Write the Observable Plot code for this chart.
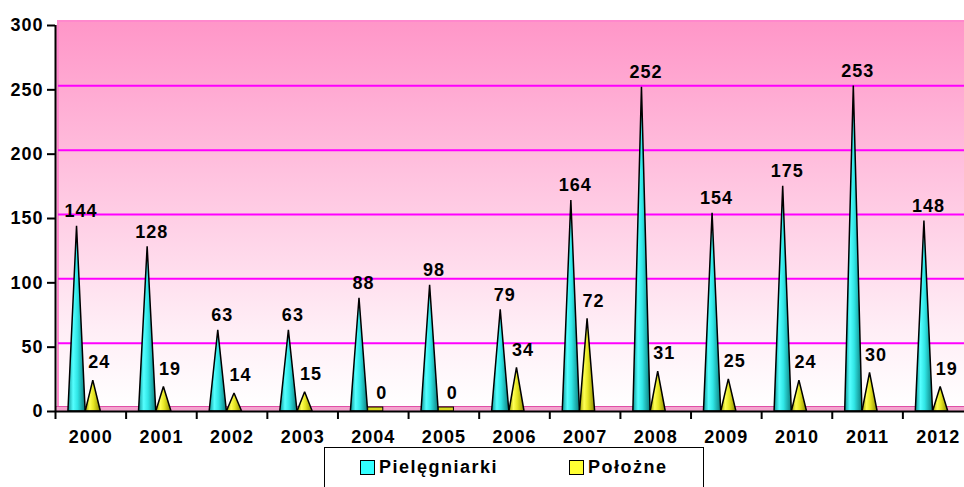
<!DOCTYPE html>
<html><head><meta charset="utf-8">
<script src="https://cdn.jsdelivr.net/npm/d3@7"></script>
<script src="https://cdn.jsdelivr.net/npm/@observablehq/plot@0.6"></script>
<style>
html,body{margin:0;padding:0;background:#fff;overflow:hidden;}
#wrap{position:relative;width:964px;height:487px;overflow:hidden;}
#wrap svg text{letter-spacing:1px;}
#legend{position:absolute;left:324px;top:447px;width:378px;height:60px;border:1px solid #000;font:bold 18px "Liberation Sans",Arial,sans-serif;letter-spacing:1.5px;color:#000;}
.sw{position:absolute;top:12px;width:13px;height:13px;border:1px solid #000;}
.lt{position:absolute;top:9px;line-height:20px;white-space:nowrap;}
</style></head><body><div id="wrap"><div id="legend"></div></div>
<script>
const years = ["2000","2001","2002","2003","2004","2005","2006","2007","2008","2009","2010","2011","2012"];
const pielegniarki = [144,128,63,63,88,98,79,164,252,154,175,253,148];
const polozne = [24,19,14,15,0,0,34,72,31,25,24,30,19];
const seriesNames = ["Pielęgniarki","Położne"];
const seriesColors = ["#33FFFF","#FFFF33"];
const yTicks = [0,50,100,150,200,250,300];

const OFF = [0.305, 0.535], HW = [0.122, 0.107];
function cones(values, s) {
  return values.flatMap((v, i) => [
    {x: i + OFF[s] - HW[s], y: 0, z: s + "-" + i},
    {x: i + OFF[s], y: v, z: s + "-" + i},
    {x: i + OFF[s] + HW[s], y: 0, z: s + "-" + i}
  ]);
}
const coneP = cones(pielegniarki, 0);
const coneY = cones(polozne, 1);

const svg = Plot.plot({
  width: 964, height: 487,
  marginTop: 25, marginBottom: 76, marginLeft: 55, marginRight: 0,
  style: {fontFamily: "'Liberation Sans', Arial, sans-serif", fontSize: "18px", fontWeight: "bold", color: "#000", background: "transparent", overflow: "hidden"},
  x: {domain: [0, 13], range: [55, 973]},
  y: {domain: [0, 300], range: [411, 25]},
  marks: [
    Plot.rect([0], {x1: 0, x2: 13, y1: 0, y2: 300, fill: "url(#bgGrad)"}),
    Plot.rect([0], {x1: 0, x2: 13, y1: 0, y2: 300, fill: "url(#bgGrad)", stroke: "#FF88CC", strokeWidth: 2, dx: 3, dy: -4}),
    Plot.ruleY(yTicks.filter(t => t > 0 && t < 300), {stroke: "#FF00FF", strokeWidth: 2, dx: 3, dy: -4}),
    Plot.rect([0], {x1: 0, x2: 13, y1: 0, y2: 0, insetTop: -5, fill: "#F4A4CE"}),
    Plot.ruleY([0], {dy: -5, stroke: "#E050A8", strokeWidth: 1}),
    Plot.areaY(coneP, {x: "x", y: "y", z: "z", fill: "url(#gradP)", stroke: "#000", strokeWidth: 1.5, strokeLinejoin: "miter"}),
    Plot.areaY(coneY, {x: "x", y: "y", z: "z", fill: "url(#gradY)", stroke: "#000", strokeWidth: 1.5, strokeLinejoin: "miter"}),
    Plot.rect(polozne.map((v, i) => ({v, i})).filter(d => d.v === 0), {x1: d => d.i + OFF[1] - HW[1], x2: d => d.i + OFF[1] + HW[1], y1: 0, y2: d => d.v, insetTop: -4, fill: "#D8D820", stroke: "#000", strokeWidth: 1}),
    Plot.ruleY([0], {stroke: "#000", strokeWidth: 2}),
    Plot.ruleX([0], {y1: 0, y2: 300, stroke: "#000", strokeWidth: 2}),
    Plot.axisY(yTicks, {tickSize: 8, tickPadding: 4, strokeWidth: 2, label: null}),
    Plot.axisX(d3.range(0, 13), {tickSize: 8, tickFormat: () => "", strokeWidth: 2, label: null}),
    Plot.axisX(years.map((y, i) => i + 0.5), {tickSize: 0, tickPadding: 19, tickFormat: d => years[Math.floor(d)], label: null}),
    Plot.text(pielegniarki, {x: (d, i) => i + OFF[0], y: d => d, text: d => String(d), dx: 4, dy: -15, fontWeight: "bold", fontSize: 18, fill: "#000"}),
    Plot.text(polozne, {x: (d, i) => i + OFF[1], y: d => d, text: d => String(d), dx: 6, dy: -18, fontWeight: "bold", fontSize: 18, fill: "#000"})
  ]
});

const defs = d3.select(svg).insert("defs", ":first-child");
const bg = defs.append("linearGradient").attr("id", "bgGrad").attr("x1", 0).attr("x2", 0).attr("y1", 0).attr("y2", 1);
bg.append("stop").attr("offset", 0).attr("stop-color", "#FF96C8");
bg.append("stop").attr("offset", 0.45).attr("stop-color", "#FFC8E2");
bg.append("stop").attr("offset", 0.8).attr("stop-color", "#FFEEF6");
bg.append("stop").attr("offset", 1).attr("stop-color", "#FFFFFF");
const gp = defs.append("linearGradient").attr("id", "gradP").attr("x1", 0).attr("x2", 1).attr("y1", 0).attr("y2", 0);
[[0, "#0E9494"], [0.3, "#55FFFF"], [0.55, "#30E6E6"], [1, "#0C7C7C"]].forEach(([o, c]) => gp.append("stop").attr("offset", o).attr("stop-color", c));
const gy = defs.append("linearGradient").attr("id", "gradY").attr("x1", 0).attr("x2", 1).attr("y1", 0).attr("y2", 0);
[[0, "#9C9C00"], [0.3, "#FFFF55"], [0.55, "#E6E622"], [1, "#8A8A00"]].forEach(([o, c]) => gy.append("stop").attr("offset", o).attr("stop-color", c));

document.getElementById("wrap").prepend(svg);

const legend = d3.select("#legend");
const legendX = [35, 244];
seriesNames.forEach((name, i) => {
  legend.append("div").attr("class", "sw").style("left", legendX[i] + "px").style("background", seriesColors[i]);
  legend.append("div").attr("class", "lt").style("left", (legendX[i] + 19) + "px").text(name);
});
</script>
</body></html>
